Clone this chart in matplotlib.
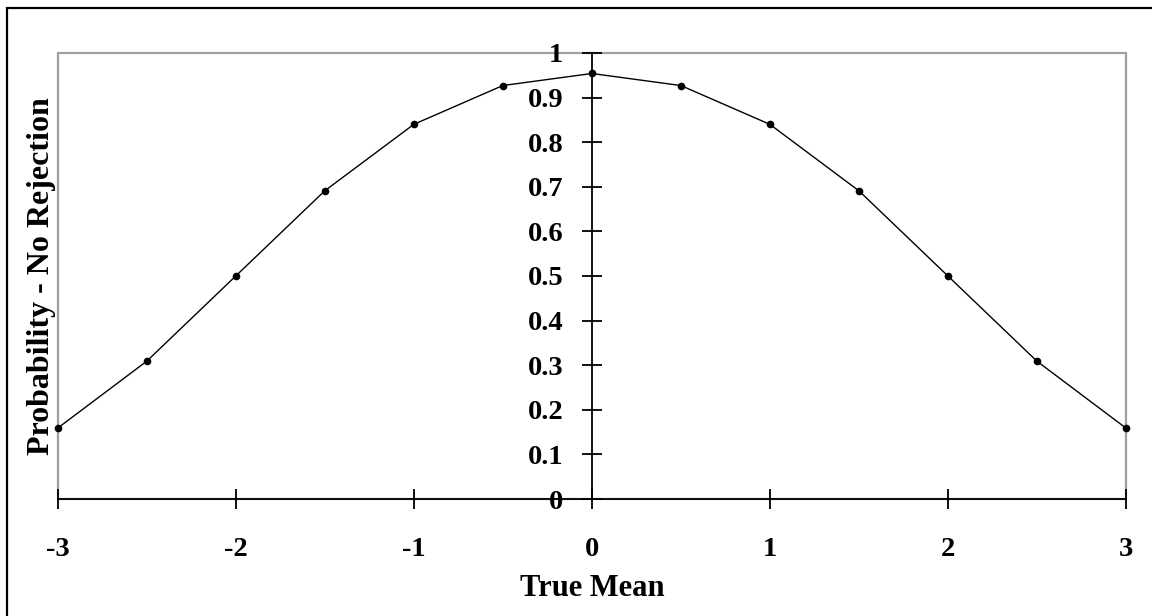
import matplotlib
matplotlib.use("Agg")
import matplotlib.pyplot as plt
from matplotlib.patches import Rectangle

# values
trueMean    = [-3, -2.5, -2, -1.5, -1, -0.5, 0, 0.5, 1, 1.5, 2, 2.5, 3]
probNoRej   = [0.159, 0.309, 0.500, 0.691, 0.840, 0.927, 0.954,
               0.927, 0.840, 0.691, 0.500, 0.309, 0.159]
xTicks      = [-3, -2, -1, 0, 1, 2, 3]
yTicks      = [0, 0.1, 0.2, 0.3, 0.4, 0.5, 0.6, 0.7, 0.8, 0.9, 1]
yTickLabels = ["0", "0.1", "0.2", "0.3", "0.4", "0.5", "0.6", "0.7", "0.8", "0.9", "1"]

plt.rcParams['font.family'] = ['Liberation Serif', 'DejaVu Serif']
plt.rcParams['font.weight'] = 'bold'

fig = plt.figure(figsize=(11.52, 6.16), dpi=100)
ax = fig.add_axes([0.0501, 0.1899, 0.9273, 0.7241])

#outer chart border, cut off at right and bottom like the screenshot
fig.add_artist(Rectangle((0.0061, -0.2), 1.3, 1.1878, transform=fig.transFigure,
                         fill=False, edgecolor="black", linewidth=1.6))

#grey plot area frame
ax.add_patch(Rectangle((0, 0), 1, 1, transform=ax.transAxes, fill=False,
                       edgecolor="#a0a0a0", linewidth=1.6, zorder=0, clip_on=False))

ax.plot(trueMean, probNoRej, color="black", linewidth=1.0, marker="o",
        markersize=4.5, zorder=5, clip_on=False)

ax.set_xlim(-3, 3)
ax.set_ylim(0, 1)
ax.spines['left'].set_position(('data', 0))
ax.spines['top'].set_visible(False)
ax.spines['right'].set_visible(False)
for sp in ['left', 'bottom']:
    ax.spines[sp].set_linewidth(1.3)
    ax.spines[sp].set_color("black")

ax.set_xticks(xTicks)
ax.set_xticklabels([str(t) for t in xTicks])
ax.set_yticks(yTicks)
ax.set_yticklabels(yTickLabels)
ax.tick_params(axis='both', direction='inout', length=15, width=1.3, labelsize=20.5)
ax.tick_params(axis='x', pad=20)
ax.tick_params(axis='y', pad=13)

ax.set_xlabel("True Mean", fontsize=22, fontweight="bold")
ax.set_ylabel("Probability - No Rejection", fontsize=23, fontweight="bold")
ax.xaxis.set_label_coords(0.5, -0.167)
ax.yaxis.set_label_coords(-0.002, 0.5)

fig.savefig("out.png", dpi=100)
